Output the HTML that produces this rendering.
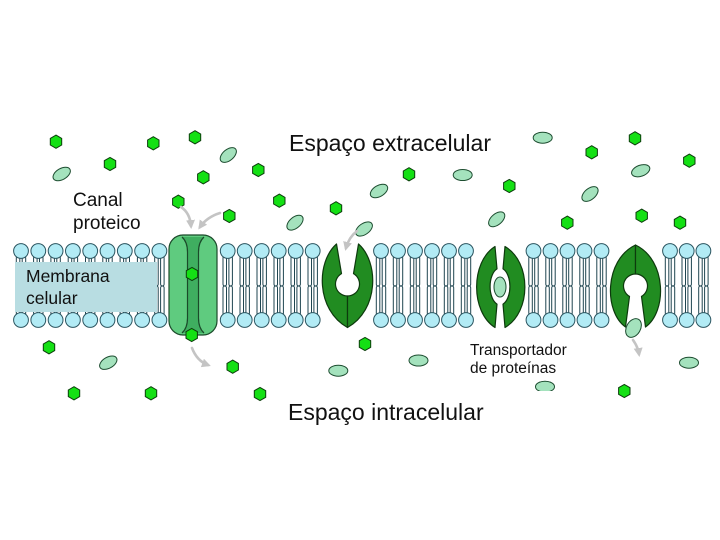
<!DOCTYPE html>
<html>
<head>
<meta charset="utf-8">
<style>
html,body{margin:0;padding:0;background:#fff;}
svg{display:block;}
text{font-family:"Liberation Sans",Arial,sans-serif;fill:#111;}
</style>
</head>
<body>
<svg width="720" height="540" viewBox="0 0 720 540" xmlns="http://www.w3.org/2000/svg">
<defs>
  <g id="lp">
    <rect x="-4.7" y="256" width="3.5" height="30" rx="1.7" fill="#fff" stroke="#1f4550" stroke-width="1"/>
    <rect x="1.2" y="256" width="3.5" height="30" rx="1.7" fill="#fff" stroke="#1f4550" stroke-width="1"/>
    <rect x="-4.7" y="286" width="3.5" height="29" rx="1.7" fill="#fff" stroke="#1f4550" stroke-width="1"/>
    <rect x="1.2" y="286" width="3.5" height="29" rx="1.7" fill="#fff" stroke="#1f4550" stroke-width="1"/>
    <circle cx="0" cy="251" r="7.4" fill="#b2ebf5" stroke="#2b5560" stroke-width="1"/>
    <circle cx="0" cy="320" r="7.4" fill="#b2ebf5" stroke="#2b5560" stroke-width="1"/>
  </g>
  <polygon id="hx" points="0,-6.6 5.7,-3.3 5.7,3.3 0,6.6 -5.7,3.3 -5.7,-3.3" fill="#14e014" stroke="#0c3d0c" stroke-width="1"/>
  <marker id="ah" markerWidth="9" markerHeight="9" refX="6" refY="4.5" orient="auto" markerUnits="userSpaceOnUse">
    <path d="M0,0 L9,4.5 L0,9 Z" fill="#c4c4c4"/>
  </marker>
</defs>

<!-- lipids -->
<use href="#lp" x="21"/>
<use href="#lp" x="38.3"/>
<use href="#lp" x="55.6"/>
<use href="#lp" x="72.9"/>
<use href="#lp" x="90.2"/>
<use href="#lp" x="107.5"/>
<use href="#lp" x="124.8"/>
<use href="#lp" x="142.1"/>
<use href="#lp" x="159.4"/>

<use href="#lp" x="227.7"/>
<use href="#lp" x="244.7"/>
<use href="#lp" x="261.7"/>
<use href="#lp" x="278.7"/>
<use href="#lp" x="295.7"/>
<use href="#lp" x="312.7"/>

<use href="#lp" x="381"/>
<use href="#lp" x="398"/>
<use href="#lp" x="415"/>
<use href="#lp" x="432"/>
<use href="#lp" x="449"/>
<use href="#lp" x="466"/>

<use href="#lp" x="533.5"/>
<use href="#lp" x="550.5"/>
<use href="#lp" x="567.5"/>
<use href="#lp" x="584.5"/>
<use href="#lp" x="601.5"/>

<use href="#lp" x="670"/>
<use href="#lp" x="686.7"/>
<use href="#lp" x="703.4"/>

<!-- membrane label box -->
<rect x="15" y="262" width="142" height="50" fill="#b8dde2"/>
<text x="26" y="282" font-size="17.5">Membrana</text>
<text x="26" y="304" font-size="17.5">celular</text>

<!-- protein channel -->
<rect x="169" y="235" width="48" height="100" rx="14" fill="#5fcb7f" stroke="#1b4a2a" stroke-width="1.2"/>
<path d="M182,237 Q187.5,242 187.5,252 L187.5,318 Q187.5,328 182,333 L204,333 Q198.5,328 198.5,318 L198.5,252 Q198.5,242 204,237 Z" fill="#3fae60"/>
<path d="M182,237 Q187.5,242 187.5,252 L187.5,318 Q187.5,328 182,333" fill="none" stroke="#1b4a2a" stroke-width="1.2"/>
<path d="M204,237 Q198.5,242 198.5,252 L198.5,318 Q198.5,328 204,333" fill="none" stroke="#1b4a2a" stroke-width="1.2"/>
<use href="#hx" x="192" y="274"/>
<use href="#hx" x="191.7" y="335"/>

<!-- transporter 1 -->
<g fill="#218c21" stroke="#0d3a0d" stroke-width="1.2" stroke-linejoin="round">
  <path d="M336.5,244 C316,262 316,310 347.5,327.5 L347.5,296 A12,12 0 0 1 341.5,273.6 Z"/>
  <path d="M358.5,244 C379,262 379,310 347.5,327.5 L347.5,296 A12,12 0 0 0 353.5,273.6 Z"/>
</g>

<!-- transporter 2 -->
<g fill="#218c21" stroke="#0d3a0d" stroke-width="1.2" stroke-linejoin="round">
  <path d="M495,246.5 C470.5,262 470.5,312 495,327.5 L497,304.1 A10,18.5 0 0 1 497,268.9 Z"/>
  <path d="M505,246.5 C531.5,262 531.5,312 505,327.5 L503,304.1 A10,18.5 0 0 0 503,268.9 Z"/>
</g>
<ellipse cx="500" cy="287" rx="6" ry="10" fill="#a4e2bd" stroke="#1d4d30" stroke-width="1"/>

<!-- transporter 3 -->
<g fill="#218c21" stroke="#0d3a0d" stroke-width="1.2" stroke-linejoin="round">
  <path d="M635.5,245 C604,260 604,312 625.5,327 L629.5,296.4 A12,12 0 0 1 635.5,274 Z"/>
  <path d="M635.5,245 C667,260 667,312 645.5,327 L641.5,296.4 A12,12 0 0 0 635.5,274 Z"/>
</g>
<ellipse cx="633.5" cy="328" rx="10" ry="7" transform="rotate(-60 633.5 328)" fill="#a4e2bd" stroke="#1d4d30" stroke-width="1"/>

<!-- ovals -->
<g fill="#a4e2bd" stroke="#1d4d30" stroke-width="1">
  <ellipse cx="61.7" cy="174" rx="9.5" ry="5.5" transform="rotate(-30 61.7 174)"/>
  <ellipse cx="228.3" cy="155" rx="9.5" ry="5.5" transform="rotate(-40 228.3 155)"/>
  <ellipse cx="295" cy="222.7" rx="9.5" ry="5.5" transform="rotate(-40 295 222.7)"/>
  <ellipse cx="364" cy="229" rx="9.5" ry="5.5" transform="rotate(-35 364 229)"/>
  <ellipse cx="379" cy="191" rx="9.5" ry="5.5" transform="rotate(-30 379 191)"/>
  <ellipse cx="462.7" cy="175" rx="9.5" ry="5.5"/>
  <ellipse cx="542.7" cy="137.7" rx="9.5" ry="5.5"/>
  <ellipse cx="640.7" cy="170.7" rx="9.5" ry="5.5" transform="rotate(-20 640.7 170.7)"/>
  <ellipse cx="590" cy="194" rx="9.5" ry="5.5" transform="rotate(-40 590 194)"/>
  <ellipse cx="496.7" cy="219.3" rx="9.5" ry="5.5" transform="rotate(-40 496.7 219.3)"/>
  <ellipse cx="108.3" cy="362.7" rx="9.5" ry="5.5" transform="rotate(-30 108.3 362.7)"/>
  <ellipse cx="338.3" cy="370.7" rx="9.5" ry="5.5"/>
  <ellipse cx="418.5" cy="360.5" rx="9.5" ry="5.5"/>
  <ellipse cx="545" cy="386.7" rx="9.5" ry="5.5"/>
  <ellipse cx="689" cy="362.7" rx="9.5" ry="5.5"/>
</g>

<!-- hexagons -->
<use href="#hx" x="56" y="141.7"/>
<use href="#hx" x="153.3" y="143.3"/>
<use href="#hx" x="195" y="137.3"/>
<use href="#hx" x="110" y="164"/>
<use href="#hx" x="203.3" y="177.3"/>
<use href="#hx" x="258.3" y="170"/>
<use href="#hx" x="178.3" y="201.7"/>
<use href="#hx" x="279.3" y="200.7"/>
<use href="#hx" x="229.3" y="216"/>
<use href="#hx" x="336" y="208.3"/>
<use href="#hx" x="409" y="174.3"/>
<use href="#hx" x="509.3" y="186"/>
<use href="#hx" x="591.7" y="152.3"/>
<use href="#hx" x="635" y="138.3"/>
<use href="#hx" x="689.3" y="160.7"/>
<use href="#hx" x="567.3" y="222.7"/>
<use href="#hx" x="641.7" y="215.7"/>
<use href="#hx" x="680" y="222.7"/>
<use href="#hx" x="49" y="347.3"/>
<use href="#hx" x="232.7" y="366.7"/>
<use href="#hx" x="74" y="393.3"/>
<use href="#hx" x="151" y="393.3"/>
<use href="#hx" x="260" y="394"/>
<use href="#hx" x="365" y="344"/>
<use href="#hx" x="624.3" y="391"/>

<!-- arrows -->
<g fill="none" stroke="#c4c4c4" stroke-width="2.6" stroke-linecap="round">
  <path d="M181,207 Q190,213 191,226" marker-end="url(#ah)"/>
  <path d="M220,213 Q207,217 200,227" marker-end="url(#ah)"/>
  <path d="M357,231 Q349,237 346,248" marker-end="url(#ah)"/>
  <path d="M192,348 Q197,361 208,365" marker-end="url(#ah)"/>
  <path d="M633,340 Q638,347 639,354" marker-end="url(#ah)"/>
</g>

<!-- white label background for intracellular -->
<rect x="282" y="391" width="276" height="40" fill="#fff"/>

<!-- labels -->
<text x="289" y="151" font-size="23">Espaço extracelular</text>
<text x="288" y="420" font-size="23">Espaço intracelular</text>
<text x="73" y="206" font-size="19">Canal</text>
<text x="73" y="229" font-size="19">proteico</text>
<text x="470" y="355" font-size="15.5">Transportador</text>
<text x="470" y="373" font-size="15.5">de proteínas</text>
</svg>
</body>
</html>
